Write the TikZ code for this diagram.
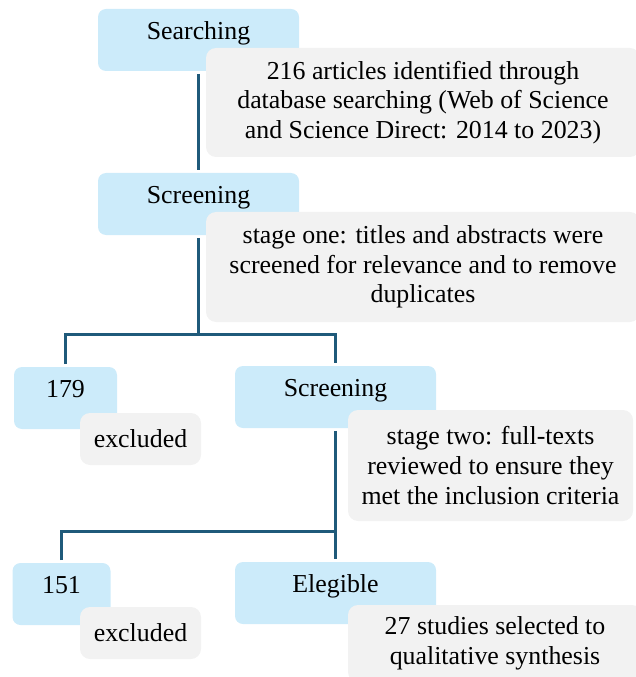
\documentclass[tikz,border=0pt]{standalone}
\usepackage{fontspec}
\setmainfont{Liberation Serif}
\definecolor{prblue}{RGB}{204,235,250}
\definecolor{prgray}{RGB}{242,242,242}
\definecolor{prline}{RGB}{31,90,122}

\begin{document}
\begin{tikzpicture}[
  x=0.75pt,y=-0.75pt,
  font=\fontsize{19.4}{22.3}\selectfont,
  stage/.style={fill=prblue,rounded corners=6pt,minimum width=#1,
                text height=23pt,text depth=23.5pt,inner ysep=0pt},
  stage/.default=150.75pt,
  note/.style={fill=prgray,rounded corners=7.5pt,align=center,inner sep=0pt},
  link/.style={draw=prline,line width=2.25pt,shorten <=2pt,shorten >=2pt}
]
  \useasboundingbox (0,0) rectangle (635,677);

  % stages
  \node[stage] (search) at (198.5,40) {Searching};
  \node[stage] (screen) at (198.5,204) {Screening};
  \node[stage=77.25pt] (excl1) at (65.5,398) {179};
  \node[stage] (screen2) at (335.5,397) {Screening};
  \node[stage=73.5pt] (excl2) at (61.5,594) {151};
  \node[stage] (elig) at (335.5,593) {Elegible};

  % connectors
  \coordinate (split1) at (198.5,334);
  \coordinate (split2) at (335.5,531);
  \draw[link] (search) -- (screen);
  \draw[link,shorten >=0pt] (screen) -- (split1);
  \draw[link] (excl1) |- (split1) -| (screen2);
  \draw[link,shorten >=0pt] (screen2) -- (split2);
  \draw[link] (excl2) |- (split2) -| (elig);

  % notes
  \node[note,minimum width=325.5pt,minimum height=81.75pt] (n1) at (423,102.5)
    {\raisebox{-2pt}{\parbox{325pt}{\centering 216 articles identified through\\database searching (Web of Science\\and Science Direct: 2014 to 2023)}}};
  \node[note,minimum width=325.5pt,minimum height=82.5pt] (n2) at (423,267)
    {\raisebox{-2pt}{\parbox{325pt}{\centering stage one: titles and abstracts were\\screened for relevance and to remove\\duplicates}}};
  \node[note,minimum width=90.75pt,minimum height=39pt] (x1) at (140.5,439) {excluded};
  \node[note,minimum width=213.75pt,minimum height=83.25pt] (n3) at (490.5,465.5)
    {\raisebox{-2pt}{\parbox{213pt}{\centering stage two: full-texts\\reviewed to ensure they\\met the inclusion criteria}}};
  \node[note,minimum width=90.75pt,minimum height=39pt] (x2) at (140.5,633) {excluded};
  \node[note,minimum width=220.5pt,minimum height=57.75pt] (n4) at (495,643.5)
    {27 studies selected to\\qualitative synthesis};
\end{tikzpicture}
\end{document}
